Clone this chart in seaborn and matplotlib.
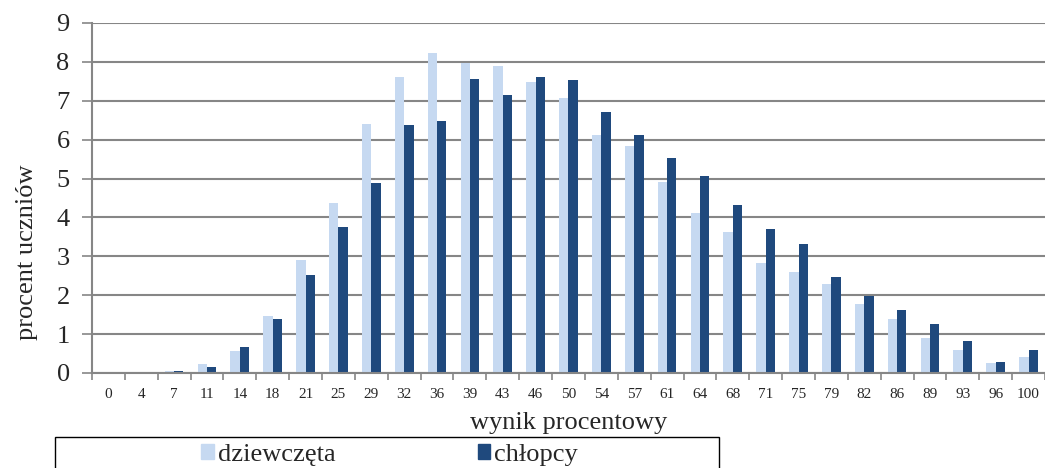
import numpy as np
import pandas as pd
import matplotlib.pyplot as plt
import seaborn as sns
from matplotlib.patches import Rectangle

# wyniki procentowe (kategorie na osi X)
wyniki = ['0', '4', '7', '11', '14', '18', '21', '25', '29', '32', '36', '39', '43', '46', '50',
          '54', '57', '61', '64', '68', '71', '75', '79', '82', '86', '89', '93', '96', '100']

# procent uczniów
dziewczeta = [0.0, 0.0, 0.06, 0.24, 0.56, 1.46, 2.91, 4.36, 6.39, 7.60, 8.22, 7.97, 7.88, 7.49, 7.06,
              6.13, 5.84, 4.92, 4.12, 3.63, 2.84, 2.60, 2.28, 1.77, 1.39, 0.89, 0.60, 0.25, 0.40]
chlopcy = [0.0, 0.0, 0.04, 0.16, 0.68, 1.40, 2.53, 3.75, 4.89, 6.38, 6.49, 7.56, 7.15, 7.60, 7.53,
           6.72, 6.11, 5.53, 5.07, 4.31, 3.70, 3.31, 2.46, 1.99, 1.63, 1.25, 0.81, 0.27, 0.58]

grupy = ['dziewczęta', 'chłopcy']
kolory = ['#C6D9F1', '#1F497D']

df = pd.DataFrame({
    'wynik': wyniki * 2,
    'procent': dziewczeta + chlopcy,
    'grupa': [grupy[0]] * len(wyniki) + [grupy[1]] * len(wyniki),
})

sns.set_style('white')
plt.rcParams['font.family'] = ['Liberation Serif', 'DejaVu Serif']

fig = plt.figure(figsize=(10.45, 4.68), dpi=100)
ax = fig.add_axes([0.088, 0.203, 0.912, 0.748])

sns.barplot(data=df, x='wynik', y='procent', hue='grupa', order=wyniki, hue_order=grupy,
            palette=kolory, width=0.57, saturation=1, linewidth=0, ax=ax, legend=False)

# oś Y i siatka
ax.set_ylim(0, 9)
ax.set_yticks(range(0, 10))
ax.yaxis.grid(True, color='#868686', linewidth=1.5)
ax.set_axisbelow(True)
ax.tick_params(axis='y', which='major', labelsize=19, length=7, width=1.2,
               color='#868686', pad=9, left=True)

# oś X: etykiety w środku, kreski na granicach kategorii
ax.set_xlim(-0.5, len(wyniki) - 0.5)
ax.set_xticks(np.arange(len(wyniki) + 1) - 0.5, minor=True)
ax.tick_params(axis='x', which='major', labelsize=11, length=0, pad=11)
ax.tick_params(axis='x', which='minor', length=5, width=1.2, color='#868686', bottom=True)

for s in ['top', 'right']:
    ax.spines[s].set_visible(False)
for s in ['left', 'bottom']:
    ax.spines[s].set_color('#868686')
    ax.spines[s].set_linewidth(1.5)

ax.set_xlabel('wynik procentowy', fontsize=19, labelpad=8)
ax.set_ylabel('procent uczniów', fontsize=19)
ax.yaxis.set_label_coords(-0.057, 0.346)

# legenda w ramce pod wykresem
uchwyty = [Rectangle((0, 0), 1, 1, color=k) for k in kolory]
fig.legend(uchwyty, grupy, loc='center', bbox_to_anchor=(0.373, 0.028), ncol=2,
           frameon=False, fontsize=19, handlelength=0.47, handleheight=0.47,
           handletextpad=0.15, columnspacing=5.4)
fig.add_artist(Rectangle((0.0526, -0.05), 0.635, 0.1162, transform=fig.transFigure,
                         fill=False, edgecolor='black', linewidth=1, clip_on=False))

plt.savefig('out.png', dpi=100)
